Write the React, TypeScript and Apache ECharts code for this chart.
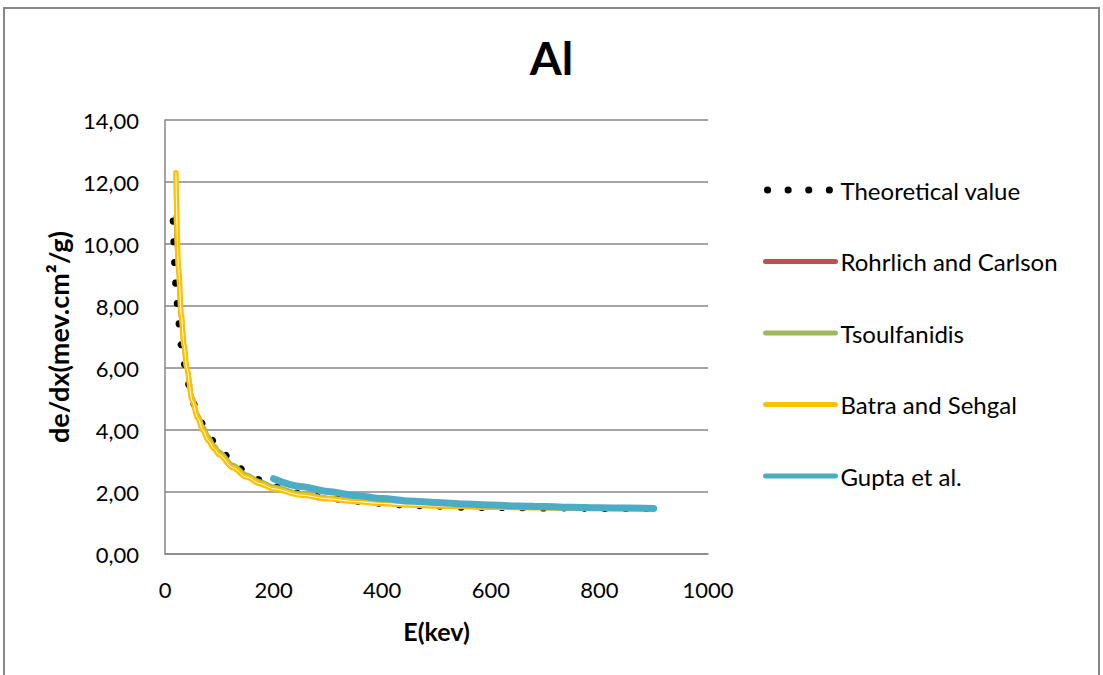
import React, { useEffect, useRef } from 'react';
import * as echarts from 'echarts';

const FONT = 'Lato, "Open Sans", sans-serif';

// Energies (keV)
const energies = [15, 20, 25, 30, 35, 40, 50, 60, 70, 80, 90, 100, 125, 150, 175, 200, 250, 300, 350, 400, 450, 500, 550, 600, 650, 700, 750, 800, 850, 900];

// Stopping power values (MeV.cm²/g)
const theoretical = [10.8, 8.7, 7.5, 6.75, 6.15, 5.7, 4.95, 4.52, 4.18, 3.88, 3.62, 3.4, 2.95, 2.63, 2.39, 2.17, 1.95, 1.8, 1.7, 1.63, 1.57, 1.54, 1.51, 1.5, 1.49, 1.48, 1.48, 1.47, 1.47, 1.47];
const rohrlich = [null, 10.9, 8.9, 7.6, 6.7, 6.0, 5.0, 4.45, 4.05, 3.72, 3.45, 3.25, 2.83, 2.53, 2.32, 2.15, 1.93, 1.8, 1.71, 1.64, 1.59, 1.56, 1.53, 1.51, 1.5, 1.49, 1.48, 1.48, 1.47, 1.47];
const tsoulfanidis = [null, 10.9, 8.9, 7.6, 6.7, 6.0, 5.05, 4.5, 4.1, 3.78, 3.5, 3.3, 2.87, 2.56, 2.34, 2.17, 1.95, 1.81, 1.72, 1.65, 1.6, 1.56, 1.53, 1.51, 1.5, 1.49, 1.48, 1.48, 1.47, 1.47];
const batra = [null, 12.3, 9.2, 7.7, 6.75, 6.0, 4.95, 4.4, 3.98, 3.65, 3.4, 3.2, 2.78, 2.48, 2.27, 2.1, 1.9, 1.78, 1.69, 1.63, 1.58, 1.55, 1.53, 1.51, 1.5, 1.49, 1.48, 1.48, 1.47, 1.47];
const gupta = [null, null, null, null, null, null, null, null, null, null, null, null, null, null, null, 2.43, 2.18, 2.02, 1.89, 1.79, 1.71, 1.66, 1.61, 1.58, 1.55, 1.53, 1.51, 1.49, 1.48, 1.47];

const seriesNames = ['Theoretical value', 'Rohrlich and Carlson', 'Tsoulfanidis', 'Batra and Sehgal', 'Gupta et al.'];
const colors = ['#000000', '#C0504D', '#9BBB59', '#FFC000', '#4BACC6'];
const lineWidths = [7, 4.5, 4.5, 5.5, 7];
const legendWidths = [7, 5, 5, 5, 5];

const pairs = (vals: (number | null)[]) =>
  energies.map((e, i) => [e, vals[i]]).filter((p) => p[1] !== null);

export default function App() {
  const ref = useRef<HTMLDivElement>(null);
  useEffect(() => {
    const chart = echarts.init(ref.current!, null, { renderer: 'svg' });
    const lineBase = { type: 'line', symbol: 'none', showSymbol: false, smooth: 0.3, smoothMonotone: 'x' };
    chart.setOption({
      animation: false,
      backgroundColor: '#ffffff',
      title: {
        text: 'Al',
        left: 'center',
        top: 29,
        textStyle: { fontFamily: FONT, fontSize: 46, fontWeight: 'bold', color: '#000' },
      },
      grid: { left: 165, top: 120, width: 543, height: 434 },
      legend: {
        orient: 'vertical',
        left: 757,
        top: 173,
        itemWidth: 70,
        itemHeight: 14,
        itemGap: 47.5,
        itemStyle: { opacity: 0 },
        textStyle: { fontFamily: FONT, fontSize: 24, color: '#000' },
        data: seriesNames.map((n, i) => ({
          name: n,
          itemStyle: { opacity: 0 },
          lineStyle: { width: legendWidths[i], cap: 'round' },
        })),
      },
      xAxis: {
        type: 'value',
        min: 0,
        max: 1000,
        interval: 200,
        axisLine: { show: true, lineStyle: { color: '#868686', width: 1.5 } },
        axisTick: { show: false },
        splitLine: { show: false },
        axisLabel: {
          fontFamily: FONT,
          fontSize: 22,
          color: '#000',
          margin: 24,
          formatter: (v: number) => String(v),
        },
        name: 'E(kev)',
        nameLocation: 'middle',
        nameGap: 64,
        nameTextStyle: { fontFamily: FONT, fontSize: 25, fontWeight: 'bold', color: '#000' },
      },
      yAxis: {
        type: 'value',
        min: 0,
        max: 14,
        interval: 2,
        axisLine: { show: true, lineStyle: { color: '#868686', width: 1.5 } },
        axisTick: { show: false },
        splitLine: { show: true, lineStyle: { color: '#868686', width: 1.5 } },
        axisLabel: {
          fontFamily: FONT,
          fontSize: 22,
          color: '#000',
          margin: 26,
          formatter: (v: number) => v.toFixed(2).replace('.', ','),
        },
        name: 'de/dx(mev.cm²/g)',
        nameLocation: 'middle',
        nameRotate: 90,
        nameGap: 93,
        nameTextStyle: { fontFamily: FONT, fontSize: 27, fontWeight: 'bold', color: '#000' },
      },
      graphic: [
        {
          type: 'rect',
          silent: true,
          z: -10,
          shape: { x: 4, y: 8, width: 1095, height: 720 },
          style: { fill: 'none', stroke: '#868686', lineWidth: 2 },
        },
      ],
      series: [
        {
          ...lineBase,
          name: seriesNames[0],
          color: colors[0],
          data: pairs(theoretical),
          lineStyle: { color: colors[0], width: lineWidths[0], type: [0.1, 20.5], cap: 'round', dashOffset: -2.5 },
          z: 1,
        },
        {
          ...lineBase,
          name: seriesNames[1],
          color: colors[1],
          data: pairs(rohrlich),
          lineStyle: { color: colors[1], width: lineWidths[1], cap: 'round' },
          z: 2,
        },
        {
          ...lineBase,
          name: seriesNames[2],
          color: colors[2],
          data: pairs(tsoulfanidis),
          lineStyle: { color: colors[2], width: lineWidths[2], cap: 'round' },
          z: 3,
        },
        {
          ...lineBase,
          name: seriesNames[3],
          color: colors[3],
          data: pairs(batra),
          lineStyle: { color: colors[3], width: lineWidths[3], cap: 'round' },
          z: 4,
        },
        {
          ...lineBase,
          name: seriesNames[3],
          color: colors[3],
          data: pairs(batra),
          lineStyle: { color: '#ffffff', width: 1, cap: 'round' },
          z: 5,
        },
        {
          ...lineBase,
          name: seriesNames[4],
          color: colors[4],
          data: pairs(gupta),
          lineStyle: { color: colors[4], width: lineWidths[4], cap: 'round' },
          z: 6,
        },
      ],
    });
    return () => chart.dispose();
  }, []);
  return (
    <div
      ref={ref}
      style={{ position: 'fixed', left: 0, top: 0, width: 1103, height: 675, background: '#fff' }}
    />
  );
}
